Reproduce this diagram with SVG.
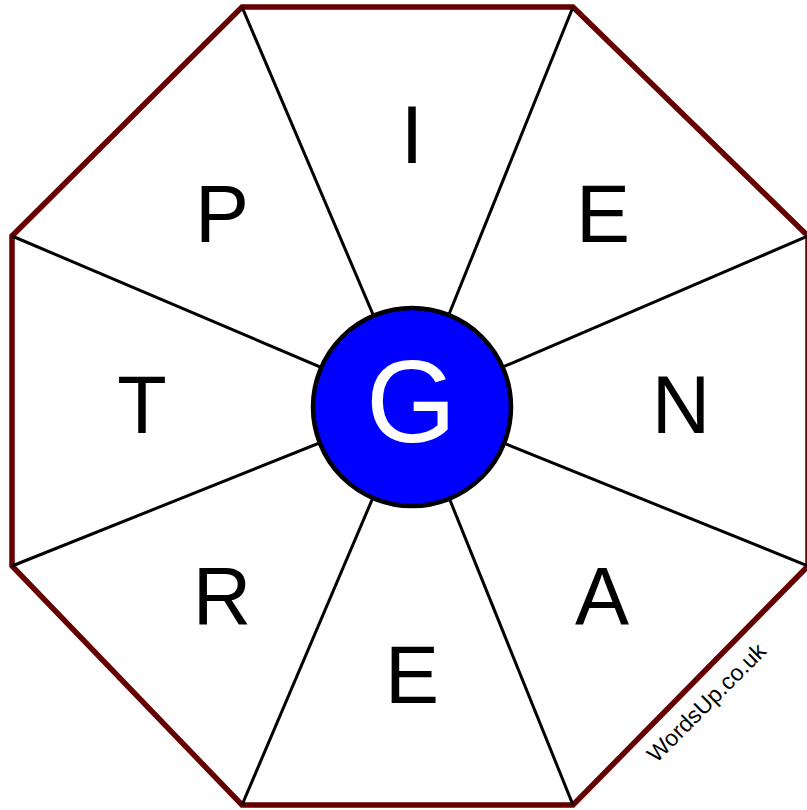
<svg xmlns="http://www.w3.org/2000/svg" width="807" height="810" viewBox="0 0 807 810">
<style>
.spoke{stroke:#000;stroke-width:3;fill:none}
.oct{fill:#fff;stroke:#660000;stroke-width:5.5;stroke-linejoin:miter}
.letter{font-family:"Liberation Sans",Arial,sans-serif;font-size:81px;fill:#000;text-anchor:middle}
.center{font-family:"Liberation Sans",Arial,sans-serif;font-size:116px;fill:#fff;text-anchor:middle}
.credit{font-family:"Liberation Sans",Arial,sans-serif;font-size:23px;fill:#000;text-anchor:middle}
</style>
<rect width="807" height="810" fill="#fff"/>
<g id="octagon">
<polygon class="oct" points="242,7 573,7 808,236 808,566 573,805 242,805 12,566 12,236"/>
</g>
<g id="connectors">
<line class="spoke" x1="242" y1="7" x2="412" y2="406"/>
<line class="spoke" x1="573" y1="7" x2="412" y2="406"/>
<line class="spoke" x1="808" y1="236" x2="412" y2="406"/>
<line class="spoke" x1="808" y1="566" x2="412" y2="406"/>
<line class="spoke" x1="573" y1="805" x2="412" y2="406"/>
<line class="spoke" x1="242" y1="805" x2="412" y2="406"/>
<line class="spoke" x1="12" y1="566" x2="412" y2="406"/>
<line class="spoke" x1="12" y1="236" x2="412" y2="406"/>
</g>
<g id="node-I"><text class="letter" x="412" y="163">I</text></g>
<g id="node-E1"><text class="letter" x="603" y="242">E</text></g>
<g id="node-N"><text class="letter" x="681" y="433">N</text></g>
<g id="node-A"><text class="letter" x="602" y="624">A</text></g>
<g id="node-E2"><text class="letter" x="412" y="703">E</text></g>
<g id="node-R"><text class="letter" x="222" y="624">R</text></g>
<g id="node-T"><text class="letter" x="142" y="433">T</text></g>
<g id="node-P"><text class="letter" x="222" y="242">P</text></g>
<g id="node-G">
<circle cx="412" cy="407" r="99" fill="#0000ff" stroke="#000" stroke-width="4.5"/>
<text class="center" x="411" y="442">G</text>
</g>
<g id="credit"><text class="credit" transform="translate(712,708) rotate(-45)" x="0" y="0">WordsUp.co.uk</text></g>
</svg>
